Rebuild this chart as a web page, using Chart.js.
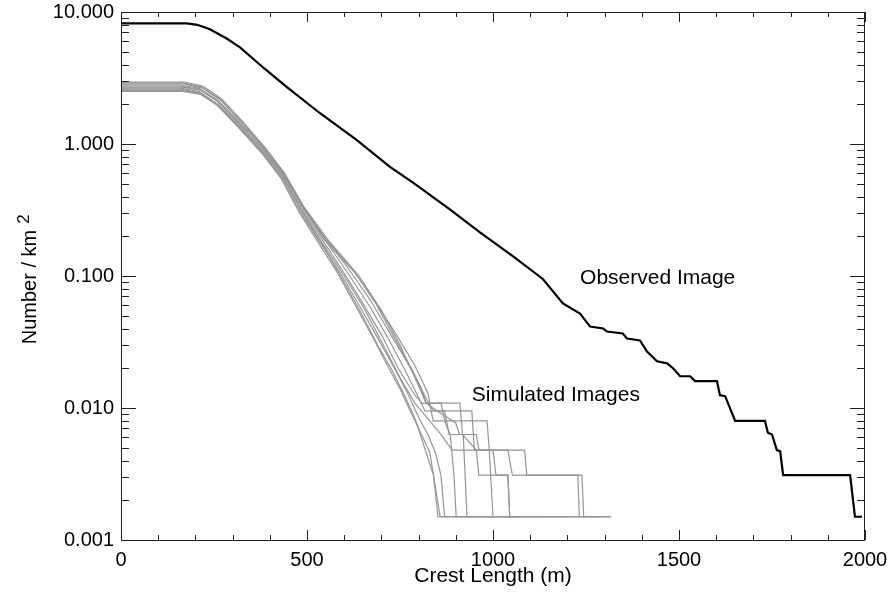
<!DOCTYPE html>
<html>
<head>
<meta charset="utf-8">
<script src="https://cdn.jsdelivr.net/npm/chart.js@4/dist/chart.umd.min.js"></script>
<style>
  html, body { margin: 0; padding: 0; background: #fff; }
  #wrap { width: 893px; height: 597px; }
</style>
</head>
<body>
<div id="wrap"><canvas id="myChart" width="893" height="597"></canvas></div>
<script>
// tick labels
const xTickValues = [0, 500, 1000, 1500, 2000];
const yTickValues = [0.001, 0.01, 0.1, 1, 10];
const yTickLabels = ['0.001', '0.010', '0.100', '1.000', '10.000'];

// observed image: [crest length (m), number / km2]
const observed = [
  [0, 8.2], [177, 8.2], [205, 8.0], [239, 7.4], [284, 6.3], [320, 5.4], [382, 3.8],
  [446, 2.7], [535, 1.71], [634, 1.07], [723, 0.67], [785, 0.51], [884, 0.32],
  [965, 0.214], [1054, 0.141], [1134, 0.095], [1188, 0.062], [1234, 0.052],
  [1261, 0.0414], [1296, 0.040], [1306, 0.038], [1349, 0.0367], [1360, 0.0336],
  [1395, 0.0325], [1414, 0.0268], [1441, 0.0226], [1468, 0.0218], [1484, 0.020],
  [1503, 0.0174], [1530, 0.0174], [1543, 0.016], [1602, 0.016], [1610, 0.0125],
  [1624, 0.0123], [1651, 0.008], [1731, 0.008], [1739, 0.0065], [1750, 0.0063],
  [1763, 0.0048], [1772, 0.0047], [1780, 0.0031], [1960, 0.0031], [1973, 0.0015],
  [1992, 0.0015]
];

// simulated images
const sim1 = [
  [0, 2.6], [160, 2.6], [210, 2.45], [260, 1.98], [320, 1.3], [380, 0.84], [430, 0.55],
  [480, 0.3], [530, 0.18], [580, 0.108], [630, 0.06], [680, 0.033], [720, 0.02],
  [750, 0.014], [780, 0.0092], [810, 0.0061], [830, 0.0046], [840, 0.0031],
  [852, 0.0015], [1000, 0.0015]
];
const sim2 = [
  [0, 2.5], [165, 2.5], [215, 2.38], [265, 1.95], [325, 1.28], [385, 0.85], [435, 0.55],
  [485, 0.31], [540, 0.175], [590, 0.1], [640, 0.056], [690, 0.03], [730, 0.019],
  [765, 0.012], [795, 0.0077], [820, 0.0046], [840, 0.0031], [858, 0.0015], [1130, 0.0015]
];
const sim3 = [
  [0, 2.75], [160, 2.75], [210, 2.6], [260, 2.1], [320, 1.4], [380, 0.93], [430, 0.6],
  [480, 0.34], [540, 0.19], [600, 0.105], [650, 0.062], [700, 0.036], [745, 0.02],
  [790, 0.0125], [809, 0.0109], [860, 0.0109], [872, 0.0077], [885, 0.0063],
  [895, 0.0031], [901, 0.0015], [1060, 0.0015]
];
const sim4 = [
  [0, 2.85], [170, 2.85], [220, 2.65], [270, 2.12], [330, 1.4], [390, 0.9], [440, 0.58],
  [490, 0.33], [550, 0.185], [615, 0.1], [670, 0.058], [720, 0.033], [765, 0.019],
  [800, 0.012], [817, 0.0095], [870, 0.0095], [882, 0.0063], [920, 0.0063],
  [925, 0.0031], [930, 0.0015], [1200, 0.0015]
];
const sim5 = [
  [0, 2.65], [160, 2.65], [210, 2.5], [260, 2.0], [320, 1.35], [380, 0.9], [430, 0.6],
  [480, 0.33], [540, 0.18], [600, 0.1], [655, 0.056], [705, 0.03], [750, 0.017],
  [790, 0.0109], [830, 0.008], [860, 0.0063], [890, 0.0048], [990, 0.0048],
  [1000, 0.0015], [1270, 0.0015]
];
const sim6 = [
  [0, 2.9], [165, 2.9], [215, 2.72], [265, 2.2], [325, 1.45], [385, 0.95], [435, 0.62],
  [485, 0.35], [545, 0.2], [610, 0.115], [670, 0.066], [720, 0.038], [770, 0.022],
  [805, 0.0145], [820, 0.0109], [911, 0.0109], [918, 0.0063], [955, 0.0048],
  [962, 0.0031], [1040, 0.0031], [1045, 0.0015], [1317, 0.0015]
];
const sim7 = [
  [0, 2.8], [160, 2.8], [210, 2.64], [260, 2.15], [320, 1.45], [380, 0.96], [430, 0.63],
  [480, 0.36], [545, 0.2], [625, 0.11], [685, 0.062], [735, 0.034], [785, 0.019],
  [820, 0.0118], [840, 0.0095], [943, 0.0095], [950, 0.0048], [1040, 0.0048],
  [1052, 0.0031], [1228, 0.0031], [1232, 0.0015], [1290, 0.0015]
];
const sim8 = [
  [0, 2.7], [165, 2.7], [215, 2.55], [265, 2.05], [325, 1.36], [385, 0.9], [435, 0.59],
  [485, 0.34], [545, 0.19], [630, 0.105], [690, 0.06], [740, 0.036], [790, 0.021],
  [825, 0.013], [839, 0.008], [984, 0.008], [990, 0.0048], [1085, 0.0048],
  [1091, 0.0031], [1239, 0.0031], [1244, 0.0015], [1317, 0.0015]
];
const sim9 = [
  [0, 2.55], [160, 2.55], [210, 2.42], [260, 1.95], [320, 1.3], [380, 0.86], [430, 0.56],
  [480, 0.31], [535, 0.18], [590, 0.105], [640, 0.06], [690, 0.034], [735, 0.02],
  [770, 0.013], [800, 0.0085], [825, 0.0063], [845, 0.0046], [860, 0.0031],
  [870, 0.0015], [1080, 0.0015]
];
const sim10 = [
  [0, 2.95], [170, 2.95], [220, 2.75], [270, 2.2], [330, 1.45], [390, 0.92], [440, 0.6],
  [490, 0.34], [555, 0.19], [640, 0.1], [700, 0.055], [750, 0.03], [790, 0.017],
  [820, 0.0109], [850, 0.0095], [900, 0.0077], [910, 0.0063], [955, 0.0063],
  [962, 0.0048], [1000, 0.0048], [1008, 0.0031], [1040, 0.0031], [1045, 0.0015],
  [1317, 0.0015]
];
const simulated = [sim1, sim2, sim3, sim4, sim5, sim6, sim7, sim8, sim9, sim10];

const FONT = '"Liberation Sans", Arial, Helvetica, sans-serif';

// frame, inward ticks on all four sides, titles and labels
const framePlugin = {
  id: 'frame',
  afterDraw(chart) {
    const ctx = chart.ctx;
    const { left, right, top, bottom } = chart.chartArea;
    const x = chart.scales.x, y = chart.scales.y;
    ctx.save();
    ctx.strokeStyle = '#222';
    ctx.lineWidth = 1;
    ctx.strokeRect(left + 0.5, top + 0.5, right - left - 1, bottom - top);

    ctx.beginPath();
    for (let v = 0; v <= 2000; v += 100) {
      const px = Math.round(x.getPixelForValue(v)) + 0.5;
      const len = v % 500 === 0 ? 10 : 5;
      ctx.moveTo(px, bottom); ctx.lineTo(px, bottom - len);
      ctx.moveTo(px, top); ctx.lineTo(px, top + len);
    }
    for (let d = 0.001; d < 10; d *= 10) {
      for (let m = 1; m <= 9; m++) {
        const py = Math.round(y.getPixelForValue(d * m)) + 0.5;
        const len = m === 1 ? 15 : 8;
        ctx.moveTo(left, py); ctx.lineTo(left + len, py);
        ctx.moveTo(right, py); ctx.lineTo(right - len, py);
      }
    }
    ctx.stroke();

    ctx.fillStyle = '#000';
    ctx.font = '21px ' + FONT;
    ctx.textBaseline = 'middle';
    ctx.textAlign = 'left';
    ctx.fillText('Observed Image', x.getPixelForValue(1234), y.getPixelForValue(0.097));
    ctx.fillText('Simulated Images', x.getPixelForValue(943), y.getPixelForValue(0.0126));

    ctx.textAlign = 'center';
    ctx.textBaseline = 'alphabetic';
    ctx.fillText('Crest Length (m)', (left + right) / 2, 582);

    ctx.font = '20px ' + FONT;
    ctx.translate(36, 280);
    ctx.rotate(-Math.PI / 2);
    ctx.textAlign = 'left';
    const main = 'Number / km';
    const w = ctx.measureText(main).width;
    const start = -(w + 14) / 2;
    ctx.fillText(main, start, 0);
    ctx.font = '17px ' + FONT;
    ctx.fillText('2', start + w + 6, -7);
    ctx.restore();
  }
};

document.addEventListener('DOMContentLoaded', function () {
  const ctx = document.getElementById('myChart');
  const datasets = simulated.map((s, i) => ({
    label: 'Simulated ' + (i + 1),
    data: s,
    borderColor: 'rgb(150,150,150)',
    borderWidth: 1.2,
    pointRadius: 0,
    tension: 0,
    order: 2
  }));
  datasets.push({
    label: 'Observed Image',
    data: observed,
    borderColor: '#000',
    borderWidth: 2.2,
    pointRadius: 0,
    tension: 0,
    order: 1
  });

  new Chart(ctx, {
    type: 'line',
    data: { datasets: datasets },
    options: {
      responsive: false,
      animation: false,
      layout: { padding: { top: 12, right: 28, left: 0, bottom: 0 } },
      plugins: {
        legend: { display: false },
        tooltip: { enabled: false }
      },
      scales: {
        x: {
          type: 'linear',
          min: 0,
          max: 2000,
          grid: { display: false, drawTicks: false },
          border: { display: false },
          afterBuildTicks: (s) => { s.ticks = xTickValues.map(v => ({ value: v })); },
          afterFit: (s) => { s.height = 57; s.paddingLeft = 0; s.paddingRight = 0; },
          ticks: {
            color: '#000',
            padding: 8,
            maxRotation: 0,
            font: { family: FONT, size: 20 },
            callback: (v) => String(v)
          }
        },
        y: {
          type: 'logarithmic',
          min: 0.001,
          max: 10,
          grid: { display: false, drawTicks: false },
          border: { display: false },
          afterBuildTicks: (s) => { s.ticks = yTickValues.map(v => ({ value: v })); },
          afterFit: (s) => { s.width = 121; s.paddingTop = 0; s.paddingBottom = 0; },
          ticks: {
            color: '#000',
            padding: 7,
            font: { family: FONT, size: 20 },
            callback: (v, i) => yTickLabels[i]
          }
        }
      }
    },
    plugins: [framePlugin]
  });
});
</script>
</body>
</html>
